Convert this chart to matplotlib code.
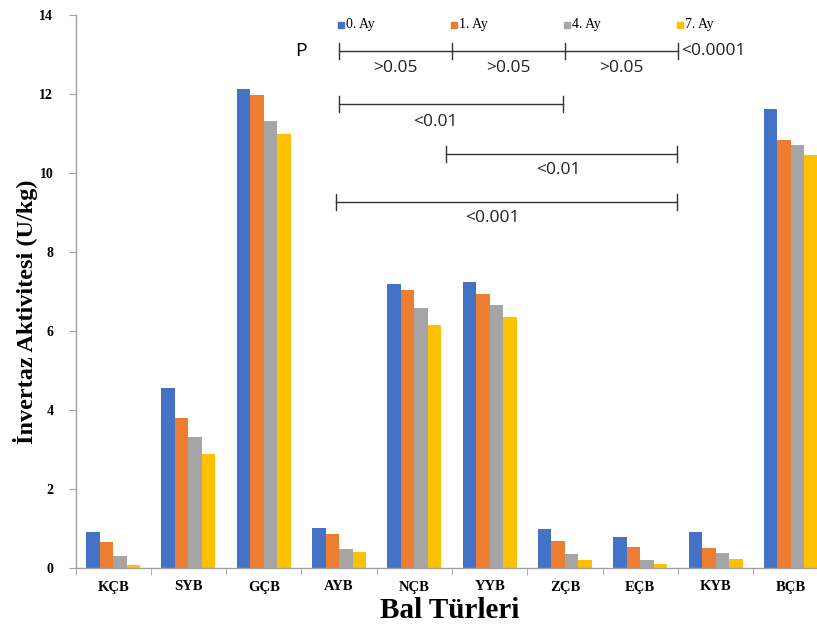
import matplotlib
matplotlib.use("Agg")
import matplotlib.pyplot as plt
import numpy as np

categories = ["KÇB", "SYB", "GÇB", "AYB", "NÇB", "YYB", "ZÇB", "EÇB", "KYB", "BÇB"]
series_names = ["0. Ay", "1. Ay", "4. Ay", "7. Ay"]
ay0 = [0.92, 4.56, 12.12, 1.01, 7.18, 7.23, 0.98, 0.79, 0.90, 11.61]
ay1 = [0.65, 3.81, 11.97, 0.85, 7.04, 6.94, 0.68, 0.54, 0.51, 10.84]
ay4 = [0.31, 3.32, 11.31, 0.48, 6.59, 6.66, 0.35, 0.20, 0.37, 10.70]
ay7 = [0.08, 2.89, 10.99, 0.41, 6.15, 6.35, 0.20, 0.09, 0.23, 10.46]
colors = ["#4472C4", "#ED7D31", "#A5A5A5", "#FFC000"]

W, H = 817, 630
fig = plt.figure(figsize=(W / 100, H / 100), dpi=100)
ax = fig.add_axes([75.5 / W, 62 / H, 753 / W, 553 / H])

x = np.arange(len(categories))
bw = 0.179
data = [ay0, ay1, ay4, ay7]
for i, (vals, c) in enumerate(zip(data, colors)):
    ax.bar(x + (i - 1.5) * bw, vals, width=bw, color=c, linewidth=0)

ax.set_xlim(-0.5, len(categories) - 0.5)
ax.set_ylim(0, 14)
ax.set_yticks(np.arange(0, 15, 2))
ax.set_yticklabels([str(v) for v in range(0, 15, 2)],
                   fontfamily="Liberation Serif", fontweight="bold", fontsize=10)
ax.set_xticks(x)
ax.set_xticklabels(categories, fontfamily="Liberation Serif", fontweight="bold", fontsize=10.5)
ax.set_xticks(np.arange(-0.5, len(categories) + 0.5, 1), minor=True)
ax.tick_params(axis="x", which="major", length=0, pad=9)
ax.tick_params(axis="x", which="minor", length=5, color="#A0A0A0", direction="out")
ax.tick_params(axis="y", length=5, color="#A0A0A0", pad=11)
for s in ["top", "right"]:
    ax.spines[s].set_visible(False)
for s in ["left", "bottom"]:
    ax.spines[s].set_color("#A0A0A0")
    ax.spines[s].set_linewidth(1.0)

fig.text(26 / W, 1 - 312 / H, "İnvertaz Aktivitesi (U/kg)", fontfamily="Liberation Serif",
         fontweight="bold", fontsize=17.5, rotation=90, ha="center", va="center")
fig.text(450 / W, 1 - 611 / H, "Bal Türleri", fontfamily="Liberation Serif",
         fontweight="bold", fontsize=21, ha="center", va="center")

# legend (custom, aligned with brackets)
leg_x = [3.0, 4.5, 6.0, 7.5]
for lx, name, c in zip(leg_x, series_names, colors):
    ax.plot([lx + 0.03], [13.75], marker="s", markersize=5, color=c,
            linestyle="none", clip_on=False)
    ax.text(lx + 0.09, 13.75, name, fontfamily="Liberation Serif", fontsize=10,
            va="center", ha="left")

# significance brackets
afont = dict(fontfamily="Open Sans", fontsize=12.5, color="#222222")
lc = "#333333"
def bracket(x0, x1, y, ticks=None):
    ax.plot([x0, x1], [y, y], color=lc, lw=1.0)
    for t in (ticks if ticks is not None else [x0, x1]):
        ax.plot([t, t], [y - 0.2, y + 0.2], color=lc, lw=1.0)

bracket(3.0, 7.5, 13.09, ticks=[3.0, 4.5, 6.0, 7.5])
ax.text(2.5, 13.09, "P", fontfamily="Open Sans", fontsize=14, va="center", ha="center")
for cx in [3.75, 5.25, 6.75]:
    ax.text(cx, 12.65, ">0.05", ha="center", va="center", **afont)
ax.text(7.54, 13.09, "<0.0001", ha="left", va="center", **afont)

bracket(3.0, 5.98, 11.75)
ax.text(4.28, 11.3, "<0.01", ha="center", va="center", **afont)

bracket(4.42, 7.49, 10.48)
ax.text(5.91, 10.07, "<0.01", ha="center", va="center", **afont)

bracket(2.96, 7.49, 9.27)
ax.text(5.04, 8.87, "<0.001", ha="center", va="center", **afont)

fig.savefig("out.png", dpi=100)
